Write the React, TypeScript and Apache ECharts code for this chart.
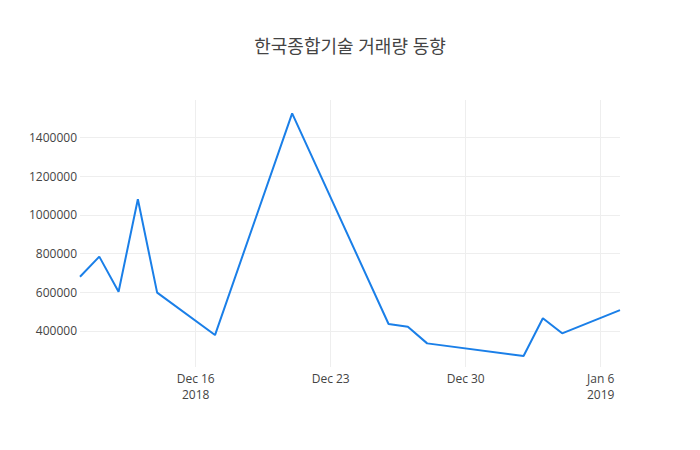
import React, { useEffect, useRef } from "react";
import * as echarts from "echarts";

const titleText = "한국종합기술 거래량 동향";
const dates = [
  "2018-12-10", "2018-12-11", "2018-12-12", "2018-12-13", "2018-12-14",
  "2018-12-17", "2018-12-21", "2018-12-26", "2018-12-27", "2018-12-28",
  "2019-01-02", "2019-01-03", "2019-01-04", "2019-01-07",
];
const volumes = [
  680000, 784000, 603000, 1080000, 598000,
  379000, 1524000, 436000, 422000, 336000,
  271000, 466000, 388000, 508000,
];
const xTickDates = ["2018-12-16", "2018-12-23", "2018-12-30", "2019-01-06"];
const xTickLabels = ["Dec 16\n2018", "Dec 23", "Dec 30", "Jan 6\n2019"];
const yTicks = [400000, 600000, 800000, 1000000, 1200000, 1400000];
const xRange = ["2018-12-10", "2019-01-07"];
const yRange = [214000, 1593000];

function toTime(s: string): number {
  const [y, m, d] = s.split("-").map(Number);
  return new Date(y, m - 1, d).getTime();
}

export default function App() {
  const ref = useRef<HTMLDivElement>(null);
  useEffect(() => {
    document.body.style.margin = "0";
    if (!ref.current) return;
    const chart = echarts.init(ref.current, undefined, { renderer: "svg" });
    const xTickTimes = xTickDates.map(toTime);
    const font = "'Open Sans', 'Noto Sans CJK KR', sans-serif";
    chart.setOption({
      animation: false,
      backgroundColor: "#fff",
      title: {
        text: titleText,
        left: "center",
        top: 32,
        textStyle: { fontFamily: font, fontSize: 18, fontWeight: "normal", color: "#444" },
      },
      grid: { left: 80, right: 80, top: 100, bottom: 83, containLabel: false },
      xAxis: {
        type: "value",
        min: toTime(xRange[0]),
        max: toTime(xRange[1]),
        axisLine: { show: false },
        axisTick: { show: false, customValues: xTickTimes },
        splitLine: { show: true, lineStyle: { color: "#eee", width: 1 } },
        axisLabel: {
          customValues: xTickTimes,
          color: "#444",
          fontFamily: font,
          fontSize: 12,
          lineHeight: 16,
          margin: 3,
          formatter: (v: number) => {
            const i = xTickTimes.indexOf(v);
            return i >= 0 ? xTickLabels[i] : "";
          },
        },
      },
      yAxis: {
        type: "value",
        min: yRange[0],
        max: yRange[1],
        axisLine: { show: false },
        axisTick: { show: false, customValues: yTicks },
        splitLine: { show: true, lineStyle: { color: "#eee", width: 1 } },
        axisLabel: {
          customValues: yTicks,
          color: "#444",
          fontFamily: font,
          fontSize: 12,
          margin: 3,
          formatter: (v: number) => String(v),
        },
      },
      series: [
        {
          type: "line",
          data: dates.map((d, i) => [toTime(d), volumes[i]]),
          showSymbol: false,
          lineStyle: { color: "#1a7fe8", width: 2 },
          itemStyle: { color: "#1a7fe8" },
        },
      ],
    });
    return () => chart.dispose();
  }, []);
  return <div ref={ref} style={{ width: 700, height: 450 }} />;
}
